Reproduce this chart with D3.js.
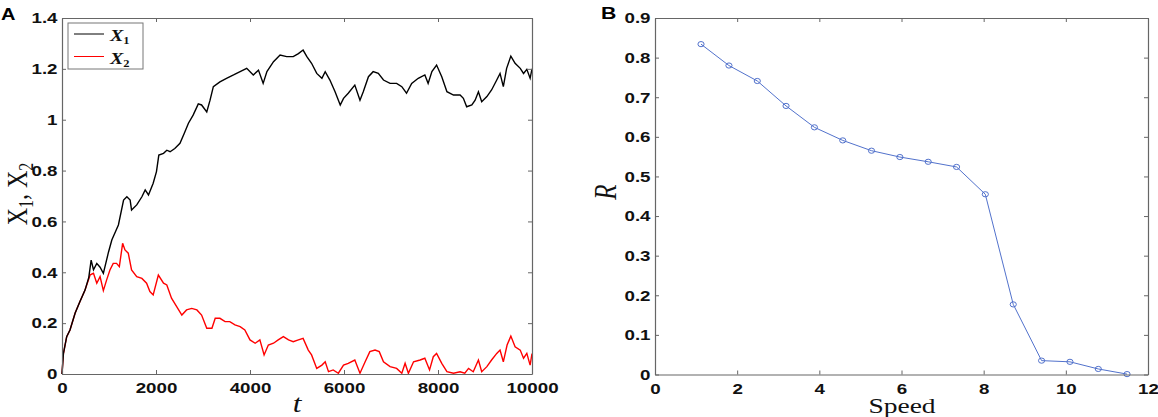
<!DOCTYPE html>
<html>
<head>
<meta charset="utf-8">
<title>X1, X2 and R vs Speed</title>
<script src="https://d3js.org/d3.v7.min.js"></script>
<style>
    body {margin: 0; background: #fff;}
    .tk text {font-family: "Liberation Sans", Arial, sans-serif; font-weight: bold; font-size: 15px; fill: #111;}
    .lab {font-family: "Liberation Serif", "Times New Roman", serif; fill: #111;}
</style>
</head>
<body>
<svg width="1158" height="417"></svg>
<script>
    // panel A: the two walks (t, value)
    var tX1 = [0, 30, 100, 170, 280, 380, 490, 570, 620, 670, 740, 810, 880, 990, 1060, 1090, 1200, 1310, 1380, 1450,
        1480, 1590, 1700, 1770, 1840, 1940, 2010, 2060, 2160, 2230, 2300, 2400, 2510, 2600, 2690, 2790, 2900, 2970, 3080, 3150,
        3220, 3360, 3500, 3650, 3790, 3930, 4070, 4180, 4280, 4360, 4500, 4640, 4780, 4920, 5030, 5130, 5210, 5310, 5420, 5530,
        5600, 5700, 5810, 5920, 5990, 6090, 6230, 6340, 6410, 6520, 6620, 6730, 6840, 6980, 7120, 7230, 7330, 7440, 7580, 7720,
        7790, 7870, 7970, 8080, 8190, 8330, 8470, 8540, 8610, 8720, 8790, 8860, 8930, 9040, 9140, 9250, 9320, 9390, 9460, 9550,
        9640, 9750, 9820, 9890, 9960, 10000];
    var x1Vals = [0, 0.08, 0.147, 0.173, 0.24, 0.284, 0.33, 0.38, 0.448, 0.41, 0.435, 0.42, 0.396, 0.48, 0.527, 0.54, 0.586, 0.684, 0.697, 0.684,
        0.645, 0.665, 0.697, 0.724, 0.704, 0.75, 0.796, 0.861, 0.868, 0.88, 0.874, 0.887, 0.907, 0.946, 0.986, 1.018, 1.062, 1.058, 1.031, 1.077,
        1.13, 1.149, 1.163, 1.176, 1.189, 1.202, 1.176, 1.195, 1.143, 1.189, 1.228, 1.254, 1.248, 1.248, 1.26, 1.274, 1.248, 1.222, 1.182, 1.163,
        1.189, 1.156, 1.11, 1.058, 1.084, 1.104, 1.136, 1.077, 1.11, 1.169, 1.189, 1.182, 1.156, 1.143, 1.143, 1.13, 1.104, 1.143, 1.163, 1.176,
        1.143, 1.189, 1.215, 1.169, 1.11, 1.097, 1.097, 1.084, 1.051, 1.058, 1.077, 1.11, 1.071, 1.091, 1.117, 1.156, 1.182, 1.13, 1.202, 1.25,
        1.222, 1.202, 1.182, 1.198, 1.163, 1.2];

    var tX2 = [0, 30, 100, 170, 280, 380, 490, 600, 670, 740, 810, 880, 950, 1020, 1090, 1160, 1220, 1290, 1340, 1410,
        1480, 1590, 1700, 1800, 1870, 1940, 2050, 2160, 2230, 2330, 2440, 2550, 2650, 2760, 2870, 2970, 3080, 3190, 3260, 3360,
        3470, 3570, 3680, 3790, 3890, 4000, 4110, 4210, 4300, 4390, 4500, 4600, 4710, 4820, 4920, 5030, 5130, 5240, 5310, 5420,
        5530, 5600, 5670, 5770, 5880, 5990, 6090, 6230, 6340, 6450, 6550, 6660, 6750, 6840, 6980, 7120, 7230, 7300, 7370, 7480,
        7620, 7720, 7820, 7900, 7970, 8080, 8190, 8330, 8470, 8570, 8650, 8750, 8860, 8930, 9040, 9140, 9250, 9320, 9390, 9470,
        9550, 9640, 9750, 9820, 9890, 9960, 10000];
    var x2Vals = [0, 0.08, 0.147, 0.173, 0.24, 0.284, 0.33, 0.39, 0.396, 0.357, 0.383, 0.328, 0.37, 0.409, 0.435, 0.435, 0.422, 0.514, 0.488, 0.475,
        0.409, 0.383, 0.376, 0.357, 0.324, 0.311, 0.389, 0.357, 0.35, 0.298, 0.265, 0.232, 0.252, 0.258, 0.252, 0.232, 0.18, 0.18, 0.219, 0.219,
        0.206, 0.206, 0.193, 0.186, 0.173, 0.134, 0.121, 0.134, 0.075, 0.114, 0.121, 0.134, 0.147, 0.134, 0.127, 0.134, 0.14, 0.094, 0.075, 0.022,
        0.035, 0.048, 0.009, 0.016, 0.003, 0.035, 0.042, 0.055, 0.003, 0.048, 0.088, 0.094, 0.088, 0.048, 0.029, 0.022, 0.003, 0.042, 0.003, 0.048,
        0.055, 0.062, 0.016, 0.068, 0.081, 0.042, 0.009, 0.003, 0.009, 0.003, 0.022, 0.009, 0.055, 0.009, 0.029, 0.055, 0.081, 0.094, 0.048, 0.114,
        0.149, 0.107, 0.094, 0.062, 0.081, 0.035, 0.08];

    // panel B: R against speed
    var speeds = [1.12, 1.8, 2.49, 3.19, 3.88, 4.57, 5.27, 5.96, 6.65, 7.34, 8.04, 8.72, 9.41, 10.1, 10.79, 11.49];
    var rVals = [0.834, 0.78, 0.741, 0.678, 0.624, 0.591, 0.565, 0.549, 0.537, 0.524, 0.455, 0.177, 0.035, 0.032, 0.014, 0.001];

    // tick labels
    var ticksAx = [0, 2000, 4000, 6000, 8000, 10000];
    var ticksAy = [0, 0.2, 0.4, 0.6, 0.8, 1, 1.2, 1.4];
    var ticksBx = [0, 2, 4, 6, 8, 10, 12];
    var ticksBy = [0, 0.1, 0.2, 0.3, 0.4, 0.5, 0.6, 0.7, 0.8, 0.9];
    var legendNames = ["1", "2"];

    var svg = d3.select("svg");
    var stretch = 1.25; // the picture is a bit wider than tall, text too
    var fmt = function (d) { return String(+d.toFixed(1)); };

    function box(g, x, y, xt, yt) {
        var w = x.range()[1], h = y.range()[0];
        g.append("g").attr("class", "tk").attr("transform", "translate(0," + h + ")")
            .call(d3.axisBottom(x).tickValues(xt).tickFormat(fmt).tickSizeInner(-4).tickSizeOuter(0).tickPadding(8.7));
        g.append("g").attr("class", "tk")
            .call(d3.axisLeft(y).tickValues(yt).tickFormat(fmt).tickSizeInner(-4).tickSizeOuter(0).tickPadding(3.6));
        g.append("g")
            .call(d3.axisTop(x).tickValues(xt).tickFormat("").tickSizeInner(-4).tickSizeOuter(0));
        g.append("g").attr("transform", "translate(" + w + ",0)")
            .call(d3.axisRight(y).tickValues(yt).tickFormat("").tickSizeInner(-4).tickSizeOuter(0));
        g.selectAll(".domain").attr("stroke", "#666").attr("stroke-width", 1.2);
        g.selectAll(".tick line").attr("stroke", "#666");
        g.selectAll(".tk text").attr("transform", "scale(" + stretch + ",1)");
    }

    // ---------- A ----------
    var gA = svg.append("g").attr("transform", "translate(62,18)");
    var xA = d3.scaleLinear().domain([0, 10000]).range([0, 470]);
    var yA = d3.scaleLinear().domain([0, 1.4]).range([356, 0]);

    var lineA = d3.line().x(function (d) { return xA(d[0]); }).y(function (d) { return yA(d[1]); });
    gA.append("path").datum(d3.zip(tX2, x2Vals))
        .attr("d", lineA).attr("fill", "none").attr("stroke", "#ff0000").attr("stroke-width", 1.4);
    gA.append("path").datum(d3.zip(tX1, x1Vals))
        .attr("d", lineA).attr("fill", "none").attr("stroke", "#000").attr("stroke-width", 1.4);
    box(gA, xA, yA, ticksAx, ticksAy);

    // legend
    var leg = gA.append("g").attr("transform", "translate(6,5)");
    leg.append("rect").attr("width", 75).attr("height", 46).attr("fill", "#fff").attr("stroke", "#777");
    var legColors = ["#000", "#ff0000"];
    legendNames.forEach(function (n, i) {
        var yy = 11 + i * 22.5;
        leg.append("line").attr("x1", 6).attr("x2", 36).attr("y1", yy).attr("y2", yy)
            .attr("stroke", legColors[i]).attr("stroke-width", 1);
        var t = leg.append("text").attr("class", "lab")
            .attr("transform", "translate(42," + (yy + 7) + ") scale(" + stretch + ",1)")
            .style("font-size", "16px").style("font-weight", "bold").style("font-style", "italic");
        t.append("tspan").text("X");
        t.append("tspan").attr("dy", 3).style("font-size", "10px").style("font-style", "normal").text(n);
    });

    // axis labels A
    var ylA = svg.append("text").attr("class", "lab")
        .attr("transform", "translate(27,194) scale(" + stretch + ",1) rotate(-90)")
        .attr("text-anchor", "middle").style("font-size", "24px");
    ylA.append("tspan").text("X");
    ylA.append("tspan").attr("dy", 5).style("font-size", "16px").text("1");
    ylA.append("tspan").attr("dy", -5).text(", X");
    ylA.append("tspan").attr("dy", 5).style("font-size", "16px").text("2");

    svg.append("text").attr("class", "lab")
        .attr("transform", "translate(297,412) scale(" + stretch + ",1)")
        .attr("text-anchor", "middle").style("font-size", "25px").style("font-style", "italic").text("t");

    svg.append("text").attr("transform", "translate(1,20) scale(" + stretch + ",1)")
        .style("font-family", "Liberation Sans, Arial, sans-serif").style("font-weight", "bold").style("font-size", "16px")
        .text("A");

    // ---------- B ----------
    var gB = svg.append("g").attr("transform", "translate(655,18)");
    var xB = d3.scaleLinear().domain([0, 12]).range([0, 493]);
    var yB = d3.scaleLinear().domain([0, 0.9]).range([356.5, 0]);
    var blue = "#5272cc";

    gB.append("path").datum(d3.zip(speeds, rVals))
        .attr("d", d3.line().x(function (d) { return xB(d[0]); }).y(function (d) { return yB(d[1]); }))
        .attr("fill", "none").attr("stroke", blue).attr("stroke-width", 1);
    gB.selectAll("ellipse").data(d3.zip(speeds, rVals)).enter().append("ellipse")
        .attr("cx", function (d) { return xB(d[0]); })
        .attr("cy", function (d) { return yB(d[1]); })
        .attr("rx", 3.1).attr("ry", 2.6)
        .attr("fill", "none").attr("stroke", blue).attr("stroke-width", 1);
    box(gB, xB, yB, ticksBx, ticksBy);

    svg.append("text").attr("class", "lab")
        .attr("transform", "translate(616,192) scale(" + stretch + ",1) rotate(-90)")
        .attr("text-anchor", "middle").style("font-size", "25px").style("font-style", "italic").text("R");

    svg.append("text").attr("class", "lab")
        .attr("transform", "translate(902,413) scale(" + stretch + ",1)")
        .attr("text-anchor", "middle").style("font-size", "22px").text("Speed");

    svg.append("text").attr("transform", "translate(601,19) scale(" + stretch + ",1)")
        .style("font-family", "Liberation Sans, Arial, sans-serif").style("font-weight", "bold").style("font-size", "17px")
        .text("B");
</script>
</body>
</html>
